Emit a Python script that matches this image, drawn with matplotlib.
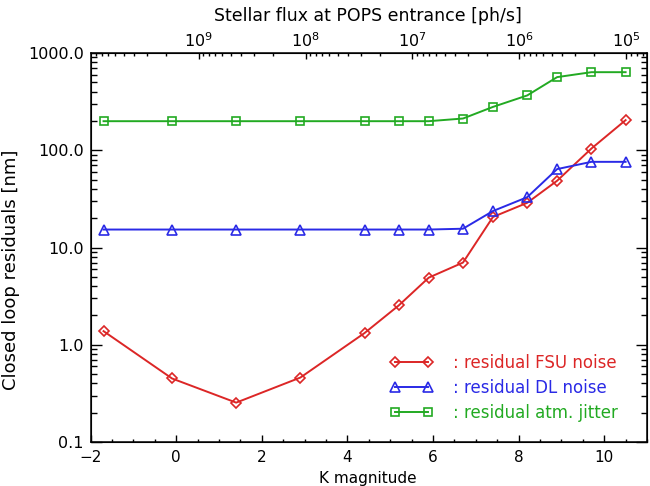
import numpy as np
import matplotlib
matplotlib.use('Agg')
import matplotlib.pyplot as plt
from matplotlib.ticker import MultipleLocator, LogLocator, FixedLocator, FuncFormatter, NullFormatter, LogFormatterSciNotation
from matplotlib.lines import Line2D

# ---- data ----
kmag = [-1.7, -0.1, 1.4, 2.9, 4.4, 5.2, 5.9, 6.7, 7.4, 8.2, 8.9, 9.7, 10.5]
fsu_noise = [1.38, 0.45, 0.254, 0.46, 1.32, 2.54, 4.9, 7.0, 20.6, 28.8, 48.6, 104, 204]
dl_noise = [15.3, 15.3, 15.3, 15.3, 15.3, 15.3, 15.3, 15.6, 23.7, 32.9, 64, 76, 76]
atm_jitter = [199, 199, 199, 199, 199, 199, 199, 212, 279, 366, 565, 635, 635]
labels = [': residual FSU noise', ': residual DL noise', ': residual atm. jitter']
ytick_vals = [0.1, 1.0, 10.0, 100.0, 1000.0]
flux_ticks = [1e9, 1e8, 1e7, 1e6, 1e5]
K_AT_1E9 = 0.52  # K magnitude where flux = 1e9 ph/s

RED = '#dc2626'
BLUE = '#2a2ae6'
GREEN = '#22aa22'
FS = 11.5

plt.rcParams['font.family'] = ['DejaVu Sans']

fig = plt.figure(figsize=(6.5, 4.86), dpi=100)
AX_BOTTOM = 442
AX_TOP = 53
ax = fig.add_axes([90.7/650, (486 - AX_BOTTOM)/486, (647-90.7)/650, (AX_BOTTOM - AX_TOP)/486])

ax.plot(kmag, fsu_noise, color=RED, lw=1.4, marker='D', ms=5, mfc='none', mec=RED, mew=1.2)
ax.plot(kmag, dl_noise, color=BLUE, lw=1.4, marker='^', ms=6.5, mfc='none', mec=BLUE, mew=1.2)
ax.plot(kmag, atm_jitter, color=GREEN, lw=1.4, marker='s', ms=6, mfc='none', mec=GREEN, mew=1.2)

ax.set_yscale('log')
ax.set_ylim(0.1, 1000)
ax.set_xlim(-2, 11)
ax.yaxis.set_major_locator(FixedLocator(ytick_vals))
ax.yaxis.set_major_formatter(FuncFormatter(lambda v, p: '%.1f' % v))
ax.yaxis.set_minor_locator(LogLocator(base=10, subs=np.arange(2, 10)))
ax.yaxis.set_minor_formatter(NullFormatter())
ax.xaxis.set_major_locator(MultipleLocator(2))
ax.xaxis.set_minor_locator(MultipleLocator(0.5))

for s in ax.spines.values():
    s.set_linewidth(1.1)

ax.tick_params(axis='x', which='major', direction='in', length=5, width=1, top=False, pad=6, labelsize=11)
ax.tick_params(axis='x', which='minor', direction='in', length=2.5, width=1, top=False)
ax.tick_params(axis='y', which='major', direction='in', length=8, width=1, right=True, pad=5, labelsize=FS)
ax.tick_params(axis='y', which='minor', direction='in', length=4, width=1, right=True)

# top axis: stellar flux
def k2flux(k):
    return 10 ** (9 - (np.asarray(k) - K_AT_1E9) / 2.5)

ax2 = ax.twiny()
ax2.set_xscale('log')
ax2.set_xlim(k2flux(-2), k2flux(11))
ax2.xaxis.set_major_locator(FixedLocator(flux_ticks))
ax2.xaxis.set_major_formatter(LogFormatterSciNotation())
ax2.xaxis.set_minor_locator(LogLocator(base=10, subs=np.arange(2, 10), numticks=50))
ax2.xaxis.set_minor_formatter(NullFormatter())
ax2.tick_params(axis='x', which='major', direction='in', length=4.5, width=1, pad=2, labelsize=FS)
ax2.tick_params(axis='x', which='minor', direction='in', length=2.5, width=1)

fig.text(368/650, 1 - 16/486, 'Stellar flux at POPS entrance [ph/s]', ha='center', va='center', fontsize=12.5)
fig.text(11/650, 1 - 270/486, 'Closed loop residuals [nm]', ha='center', va='center', rotation=90, fontsize=13)
fig.text(368/650, 0.0, 'K magnitude', ha='center', va='bottom', fontsize=11)

handles = [
    Line2D([], [], color=RED, lw=1.4, marker='D', ms=5, mfc='none', mec=RED, mew=1.2),
    Line2D([], [], color=BLUE, lw=1.4, marker='^', ms=6.5, mfc='none', mec=BLUE, mew=1.2),
    Line2D([], [], color=GREEN, lw=1.4, marker='s', ms=6, mfc='none', mec=GREEN, mew=1.2),
]
LFS = 12
axh = AX_BOTTOM - AX_TOP
leg = ax.legend(handles, labels, loc='upper left', bbox_to_anchor=((390 - 90.7) / 556.3, (AX_BOTTOM - 354) / axh),
                frameon=False, numpoints=2, handlelength=43 / (LFS * 100 / 72), handletextpad=1.2,
                labelspacing=0.42, borderpad=0, borderaxespad=0, fontsize=LFS, labelcolor='linecolor')

fig.savefig('out.png', dpi=100)
